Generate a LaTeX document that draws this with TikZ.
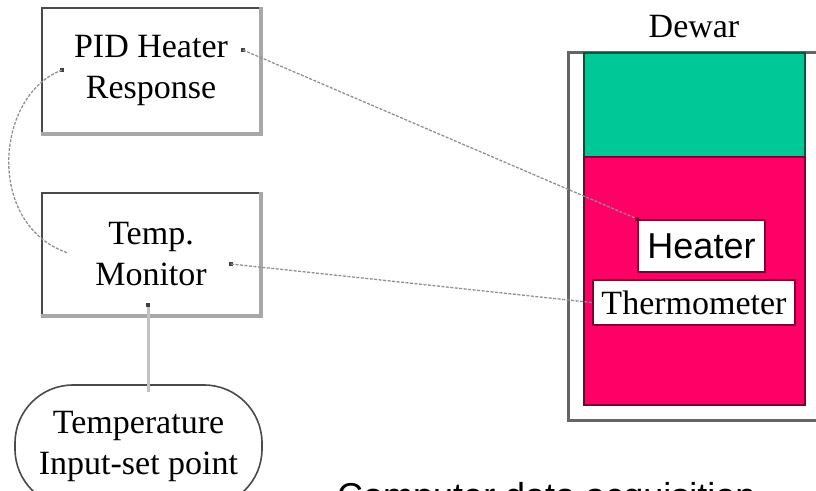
\documentclass[tikz,border=0pt]{standalone}
\usepackage{fontspec}
\setmainfont{Liberation Serif}
\newfontfamily\arialf{Liberation Sans}
\definecolor{grn}{HTML}{00C896}
\definecolor{grnb}{HTML}{00583C}
\definecolor{redf}{HTML}{FF0066}
\definecolor{redb}{HTML}{7A0030}
\definecolor{boxdark}{HTML}{4A4A4A}
\definecolor{boxlight}{HTML}{A8A8A8}
\definecolor{conncol}{HTML}{909090}
\definecolor{dotcol}{HTML}{404040}
\begin{document}
\begin{tikzpicture}[x=1pt,y=-1pt,
  box/.style={draw=boxdark, line width=2pt, minimum width=218pt, align=center,
    font=\fontsize{34}{41}\selectfont, inner sep=0pt},
  conn/.style={draw=conncol, line width=1.3pt, dash pattern=on 3pt off 1.5pt},
  dotn/.style={fill=dotcol, inner sep=0pt, minimum size=4.5pt},
  labbox/.style={fill=white, draw=redb, line width=2.5pt, inner sep=0pt}]
\useasboundingbox (0,0) rectangle (816,490);

% left boxes
\node[box, minimum height=125pt] (pid) at (151,70.5) {PID Heater\\Response};
\draw[boxlight, line width=3.5pt] (pid.north east) -- (pid.south east) -- (pid.south west);
\node[box, minimum height=122pt] (mon) at (151,254) {Temp.\\Monitor};
\draw[boxlight, line width=3.5pt] (mon.north east) -- (mon.south east) -- (mon.south west);

\node[draw=boxdark, line width=1.6pt, rounded corners=58pt, minimum width=247pt,
  minimum height=122pt, inner sep=0pt, align=center,
  font=\fontsize{34}{41}\selectfont] (setp) at (138.5,446) {Temperature\\Input-set point};

% Dewar
\node[font=\fontsize{34}{41}\selectfont] (dewlab) at (694,27) {Dewar};
\draw[line width=3pt, draw=boxdark!85] (830,52) -- (568,52) -- (568,420) -- (830,420);
\node[fill=grn, draw=grnb, line width=2pt, minimum width=221pt, minimum height=104pt, inner sep=0pt] (gas) at (694.5,105) {};
\node[fill=redf, draw=redb, line width=2pt, minimum width=221pt, minimum height=248pt, inner sep=0pt] (liq) at (694.5,281) {};
\node[labbox, minimum width=127pt, minimum height=52pt, font=\arialf\fontsize{36}{42}\selectfont] (heater) at (701.5,246) {Heater};
\node[labbox, minimum width=202pt, minimum height=45pt, font=\fontsize{34}{41}\selectfont] (therm) at (694,302.5) {Thermometer};

% connectors
\node[dotn] (piddot) at (243,50) {};
\node[dotn] (pidc) at (62,70) {};
\coordinate (monc) at (68,253);
\node[dotn] (mondot) at (231,264) {};
\node[dotn] (monb) at (148,305) {};

\draw[conn] (piddot.center) -- (heater.north west);
\node[dotn, fill=redb] at (heater.north west) {};
\draw[conn] (mondot.center) -- (therm.west);
\draw[conn] (pidc.center) .. controls (-5,95) and (-15,225) .. (monc);
\draw[draw=boxlight!70, line width=3pt] (monb.south) -- ([yshift=-8pt]monb.south |- setp.north);

% cut-off caption
\node[anchor=base west, inner sep=0pt, font=\arialf\fontsize{36}{42}\selectfont] (cap) at (337,508) {Computer data acquisition};
\end{tikzpicture}
\end{document}
